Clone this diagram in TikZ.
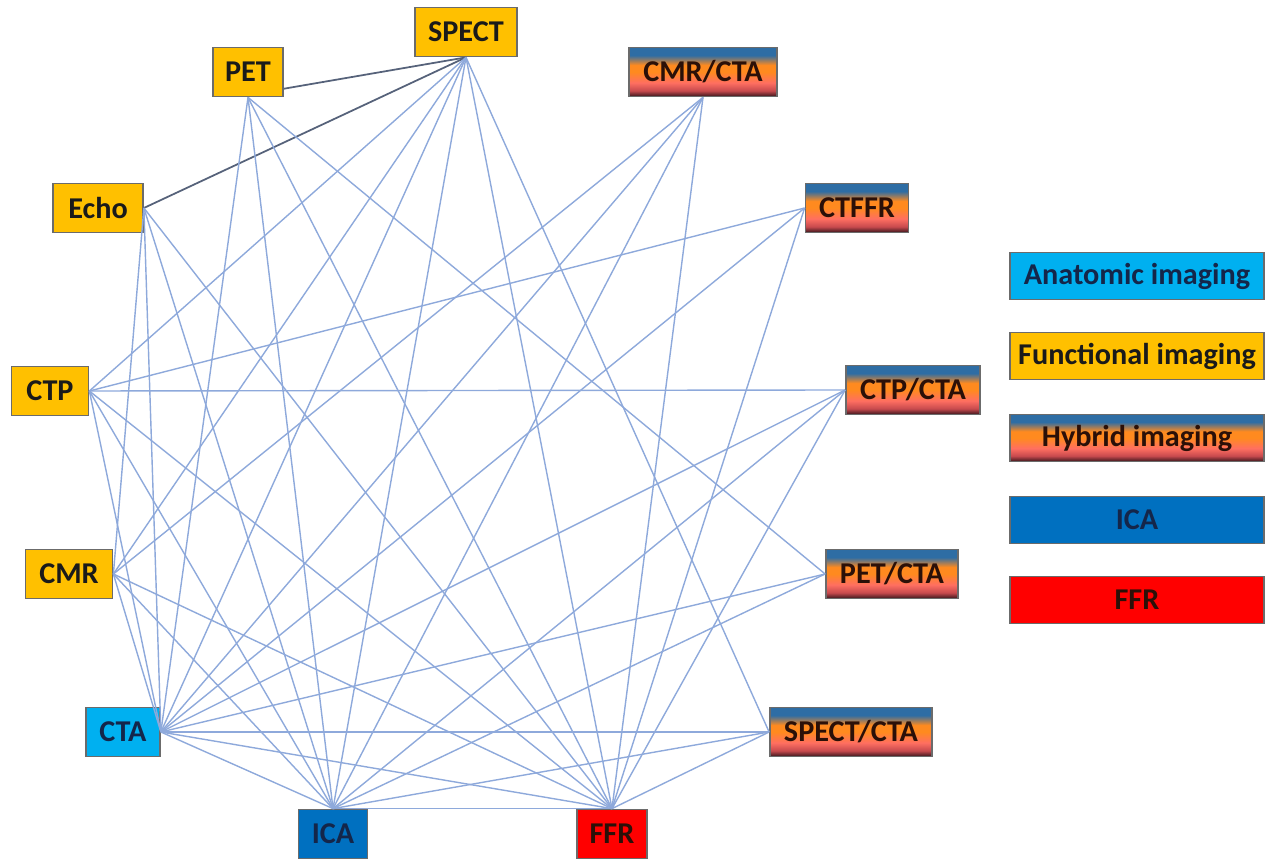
\documentclass[tikz,border=0pt]{standalone}
\usepackage{fontspec}
\setmainfont{Carlito}
\usetikzlibrary{shadings}
\definecolor{Func}{HTML}{FFC000}
\definecolor{Anat}{HTML}{00B0F0}
\definecolor{Inv}{HTML}{0070C0}
\definecolor{Ref}{HTML}{FF0000}
\definecolor{Edge}{HTML}{8EA9DB}
\definecolor{EdgeDark}{HTML}{56627A}
\definecolor{Frame}{HTML}{6B6B6B}
\definecolor{Txt}{HTML}{1A1A1A}
\definecolor{NavyTxt}{HTML}{14264A}
\definecolor{HybTxt}{HTML}{2B1008}
\definecolor{HybBlue}{HTML}{2E6DA4}
\definecolor{HybOrange}{HTML}{FF8A1F}
\definecolor{HybPink}{HTML}{FF6F61}
\definecolor{HybRed}{HTML}{C84A4E}
\definecolor{HybDark}{HTML}{3A161C}
\pgfdeclareverticalshading{hybridfill}{100bp}{color(0bp)=(HybDark); color(25bp)=(HybDark); color(31bp)=(HybRed); color(39bp)=(HybPink); color(50bp)=(HybOrange); color(57bp)=(HybOrange); color(67bp)=(HybBlue); color(100bp)=(HybBlue)}
\tikzset{
  box/.style={
    draw=Frame, line width=0.5pt, minimum height=4.9mm, inner sep=0pt,
    text=Txt, font=\fontsize{8.6}{10}\selectfont\bfseries
  },
  func/.style={box, fill=Func},
  anat/.style={box, fill=Anat, text=NavyTxt},
  hybrid/.style={box, shading=hybridfill, text=HybTxt},
  invasive/.style={box, fill=Inv, text=NavyTxt},
  reference/.style={box, fill=Ref, text=HybTxt},
  key/.style={minimum width=25.4mm, minimum height=4.7mm},
  link/.style={draw=Edge, line width=0.4pt},
  darklink/.style={draw=EdgeDark, line width=0.5pt}
}

\begin{document}
\begin{tikzpicture}[x=0.1mm,y=-0.1mm]
        \useasboundingbox (0,0) rectangle (1265,860);
        \node[func,minimum width=10.2mm] (spect) at (466,32) {SPECT};
        \node[func,minimum width=7mm] (pet) at (248,72) {PET};
        \node[hybrid,minimum width=14.8mm] (cmrcta) at (703,72) {CMR/CTA};
        \node[func,minimum width=9mm] (echo) at (98,208) {Echo};
        \node[hybrid,minimum width=10.3mm] (ctffr) at (857,208) {CTFFR};
        \node[func,minimum width=7.7mm] (ctp) at (50,391) {CTP};
        \node[hybrid,minimum width=13.4mm] (ctpcta) at (913,390) {CTP/CTA};
        \node[func,minimum width=8.7mm] (cmr) at (69,574) {CMR};
        \node[hybrid,minimum width=13.2mm] (petcta) at (892,574) {PET/CTA};
        \node[anat,minimum width=7.4mm] (cta) at (123,732) {CTA};
        \node[hybrid,minimum width=16.2mm] (spectcta) at (851,732) {SPECT/CTA};
        \node[invasive,minimum width=6.9mm] (ica) at (333,834) {ICA};
        \node[reference,minimum width=7mm] (ffr) at (612,834) {FFR};
        % legend
        \node[anat,key] (lanat) at (1137,276) {Anatomic imaging};
        \node[func,key] (lfunc) at (1137,356) {Functional imaging};
        \node[hybrid,key] (lhyb) at (1137,438) {Hybrid imaging};
        \node[invasive,key] (lica) at (1137,520) {ICA};
        \node[reference,key] (lffr) at (1137,600) {FFR};
        % comparisons
        \draw[darklink] (spect.south)--(pet.-25); \draw[darklink] (spect.south)--(echo.east);
        \draw[link] (spect.south)--(ctp.east); \draw[link] (spect.south)--(cmr.east);
        \draw[link] (spect.south)--(cta.east); \draw[link] (spect.south)--(ica.north);
        \draw[link] (spect.south)--(ffr.north); \draw[link] (spect.south)--(spectcta.west);
        \draw[link] (pet.south)--(cta.east); \draw[link] (pet.south)--(ica.north);
        \draw[link] (pet.south)--(ffr.north); \draw[link] (pet.south)--(petcta.west);
        \draw[link] (echo.east)--(cmr.east); \draw[link] (echo.east)--(cta.east);
        \draw[link] (echo.east)--(ica.north); \draw[link] (echo.east)--(ffr.north);
        \draw[link] (ctp.east)--(ctffr.west); \draw[link] (ctp.east)--(ctpcta.west);
        \draw[link] (ctp.east)--(cta.east); \draw[link] (ctp.east)--(ica.north);
        \draw[link] (ctp.east)--(ffr.north);
        \draw[link] (cmr.east)--(cmrcta.south); \draw[link] (cmr.east)--(cta.east);
        \draw[link] (cmr.east)--(ica.north); \draw[link] (cmr.east)--(ffr.north);
        \draw[link] (cta.east)--(cmrcta.south); \draw[link] (cta.east)--(ctffr.west);
        \draw[link] (cta.east)--(ctpcta.west); \draw[link] (cta.east)--(petcta.west);
        \draw[link] (cta.east)--(spectcta.west); \draw[link] (cta.east)--(ica.north);
        \draw[link] (cta.east)--(ffr.north);
        \draw[link] (ica.north)--(ffr.north); \draw[link] (ica.north)--(cmrcta.south);
        \draw[link] (ica.north)--(ctpcta.west); \draw[link] (ica.north)--(petcta.west);
        \draw[link] (ica.north)--(spectcta.west);
        \draw[link] (ffr.north)--(cmrcta.south); \draw[link] (ffr.north)--(ctffr.west);
        \draw[link] (ffr.north)--(ctpcta.west); \draw[link] (ffr.north)--(spectcta.west);
      \end{tikzpicture}
\end{document}
